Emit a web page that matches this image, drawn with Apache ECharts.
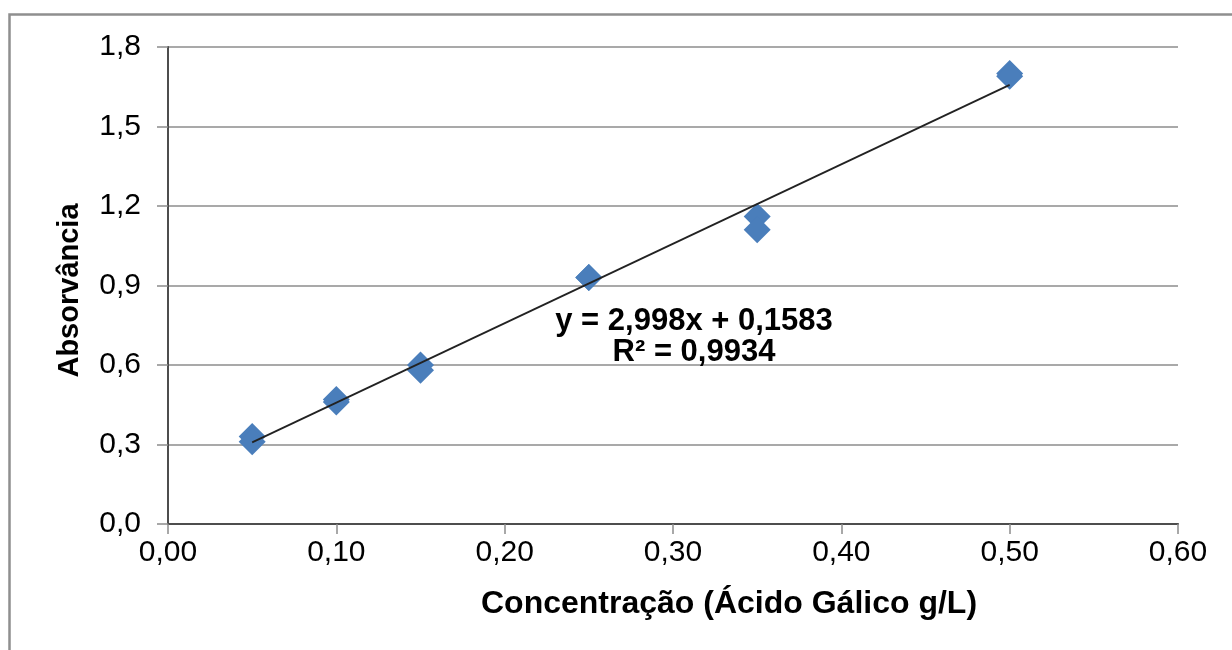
<!DOCTYPE html>
<html>
<head>
<meta charset="utf-8">
<script src="https://cdn.jsdelivr.net/npm/echarts@6/dist/echarts.min.js"></script>
<style>
html,body{margin:0;padding:0;background:#fff;}
#c{width:1232px;height:650px;}
</style>
</head>
<body>
<div id="c"></div>
<script>
// Data
const concentrations = [0.05, 0.05, 0.10, 0.10, 0.15, 0.15, 0.25, 0.25, 0.35, 0.35, 0.50, 0.50];
const absorbances    = [0.33, 0.31, 0.46, 0.47, 0.60, 0.58, 0.93, 0.93, 1.16, 1.11, 1.70, 1.69];
const trendSlope = 2.998;
const trendIntercept = 0.1583;
const trendR2 = 0.9934;
const trendRange = [0.05, 0.50];
const xTitle = 'Concentração (Ácido Gálico g/L)';
const yTitle = 'Absorvância';

const fmt = (v, d) => v.toFixed(d).replace('.', ',');
const points = concentrations.map((x, i) => [x, absorbances[i]]);
const trend = trendRange.map(x => [x, trendSlope * x + trendIntercept]);
const eqLine1 = 'y = ' + fmt(trendSlope, 3) + 'x + ' + fmt(trendIntercept, 4);
const eqLine2 = 'R² = ' + fmt(trendR2, 4);

const FONT = '"Liberation Sans", Arial, sans-serif';
const chart = echarts.init(document.getElementById('c'), null, {renderer: 'canvas'});
chart.setOption({
  animation: false,
  backgroundColor: '#fff',
  grid: {left: 168, right: 54, top: 47, bottom: 126, containLabel: false},
  xAxis: [{
    type: 'value', min: 0, max: 0.6, interval: 0.1,
    axisLine: {show: true, lineStyle: {color: '#8c8c8c', width: 1.5}},
    axisTick: {show: true, length: 10, lineStyle: {color: '#8c8c8c', width: 1.5}},
    axisLabel: {fontFamily: FONT, fontSize: 30, color: '#000', margin: 14,
      formatter: v => fmt(v, 2)},
    splitLine: {show: false}
  }, {
    type: 'value', min: 0, max: 0.6, position: 'top',
    axisLine: {show: true, lineStyle: {color: '#4d4d4d', width: 2}},
    axisTick: {show: false}, axisLabel: {show: false}, splitLine: {show: false}
  }],
  yAxis: [{
    type: 'value', min: 0, max: 1.8, interval: 0.3,
    name: yTitle, nameLocation: 'middle', nameGap: 84, nameRotate: 90,
    nameTextStyle: {fontFamily: FONT, fontSize: 29, fontWeight: 'bold', color: '#000',
      padding: [0, 10, 0, 0]},
    axisLine: {show: true, lineStyle: {color: '#8c8c8c', width: 1.5}},
    axisTick: {show: true, length: 11, lineStyle: {color: '#8c8c8c', width: 1.5}},
    axisLabel: {fontFamily: FONT, fontSize: 30, color: '#000', margin: 27,
      formatter: v => fmt(v, 1)},
    splitLine: {show: true, lineStyle: {color: '#8c8c8c', width: 1.5}}
  }, {
    type: 'value', min: 0, max: 1.8, position: 'right',
    axisLine: {show: true, lineStyle: {color: '#4d4d4d', width: 2}},
    axisTick: {show: false}, axisLabel: {show: false}, splitLine: {show: false}
  }],
  series: [{
    type: 'scatter', data: points, symbol: 'diamond', symbolSize: [27, 27],
    itemStyle: {color: '#4a7ebb', opacity: 1}, z: 2
  }, {
    type: 'line', data: trend, showSymbol: false, symbol: 'none',
    lineStyle: {color: '#222', width: 1.8}, z: 3
  }],
  graphic: [{
    type: 'rect', shape: {x: 9.5, y: 14.5, width: 1300, height: 800},
    style: {fill: 'none', stroke: '#8f8f8f', lineWidth: 2.5}, silent: true
  }, {
    type: 'text', x: 729, y: 604,
    style: {text: xTitle, fontFamily: FONT, fontSize: 32, fontWeight: 'bold',
      fill: '#000', align: 'center', verticalAlign: 'middle'}, z: 10
  }, {
    type: 'text', x: 694, y: 321,
    style: {text: eqLine1, fontFamily: FONT, fontSize: 31, fontWeight: 'bold',
      fill: '#000', align: 'center', verticalAlign: 'middle'}, z: 10
  }, {
    type: 'text', x: 694, y: 352,
    style: {text: eqLine2, fontFamily: FONT, fontSize: 31, fontWeight: 'bold',
      fill: '#000', align: 'center', verticalAlign: 'middle'}, z: 10
  }]
});
</script>
</body>
</html>
